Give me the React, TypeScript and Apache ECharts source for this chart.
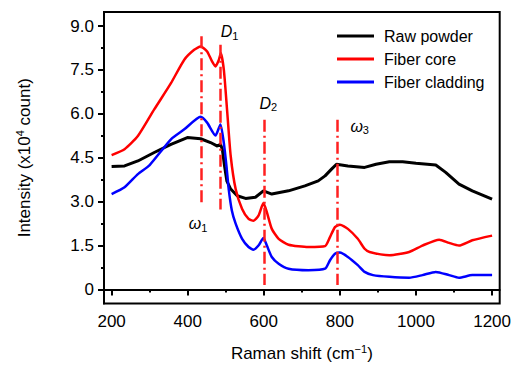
import React, { useEffect, useRef } from "react";
import * as echarts from "echarts";

const FONT = "Liberation Sans, Arial, sans-serif";

// Raw powder
const rawX = [200, 234, 269, 312, 356, 399, 434, 460, 478, 486, 491, 497, 503, 513, 530, 552, 578, 599, 621, 665, 708, 743, 761, 778, 791, 821, 865, 895, 930, 965, 1000, 1052, 1078, 1113, 1148, 1200];
const rawY = [4.2, 4.22, 4.39, 4.68, 4.96, 5.19, 5.15, 5.02, 4.9, 4.96, 4.79, 4.2, 3.7, 3.43, 3.2, 3.11, 3.15, 3.37, 3.26, 3.37, 3.54, 3.71, 3.88, 4.11, 4.28, 4.22, 4.17, 4.28, 4.36, 4.36, 4.31, 4.25, 4.0, 3.6, 3.37, 3.09];

// Fiber core
const coreX = [200, 234, 269, 312, 356, 391, 417, 434, 451, 464, 473, 482, 487, 495, 504, 513, 526, 543, 560, 573, 586, 599, 608, 621, 639, 665, 717, 761, 774, 787, 800, 821, 847, 865, 878, 930, 982, 1017, 1061, 1087, 1113, 1148, 1200];
const coreY = [4.59, 4.79, 5.24, 6.15, 7.05, 7.85, 8.19, 8.3, 8.13, 7.79, 7.62, 7.85, 8.08, 7.5, 6.04, 4.56, 3.43, 2.75, 2.41, 2.35, 2.52, 2.95, 2.64, 2.07, 1.73, 1.53, 1.45, 1.48, 1.79, 2.13, 2.21, 2.07, 1.73, 1.39, 1.28, 1.17, 1.28, 1.5, 1.7, 1.59, 1.5, 1.68, 1.84];

// Fiber cladding
const cladX = [200, 234, 269, 300, 356, 391, 434, 451, 473, 486, 495, 502, 508, 516, 526, 543, 560, 573, 586, 599, 608, 621, 639, 665, 717, 761, 774, 787, 800, 821, 847, 865, 887, 930, 982, 1017, 1052, 1087, 1113, 1148, 1200];
const cladY = [3.26, 3.49, 3.94, 4.25, 5.13, 5.47, 5.9, 5.7, 5.26, 5.64, 5.0, 4.2, 3.4, 2.7, 2.25, 1.73, 1.45, 1.36, 1.5, 1.76, 1.5, 1.11, 0.88, 0.71, 0.66, 0.71, 1.0, 1.22, 1.26, 1.11, 0.83, 0.6, 0.49, 0.43, 0.4, 0.49, 0.6, 0.49, 0.4, 0.49, 0.49];

const seriesNames = ["Raw powder", "Fiber core", "Fiber cladding"];

// Axis ticks
const xMajor = [200, 400, 600, 800, 1000, 1200];
const xMinor = [300, 500, 700, 900, 1100];
const yMajor = [0, 1.5, 3, 4.5, 6, 7.5, 9];
const yMinor = [0.75, 2.25, 3.75, 5.25, 6.75, 8.25];

// Annotation lines (Raman shift, top, bottom)
const markX = [435, 486, 601, 793];
const markTop = [8.65, 8.36, 5.8, 5.8];
const markBottom = [2.98, 2.73, 0.15, 0.15];

// Annotation labels
const annoText = ["{i|ω}{sub|1}", "{i|D}{sub|1}", "{i|D}{sub|2}", "{i|ω}{sub|3}"];
const annoX = [427, 510, 612, 852];
const annoY = [2.24, 8.81, 6.36, 5.58];

const zip = (xs: number[], ys: number[]) => xs.map((x, i) => [x, ys[i]]);

export default function App() {
  const ref = useRef<HTMLDivElement>(null);
  useEffect(() => {
    document.body.style.margin = "0";
    if (!ref.current) return;
    const chart = echarts.init(ref.current, null, { renderer: "svg" });
    const axisCommon = {
      type: "value" as const,
      splitLine: { show: false },
    };
    const supRich = { sup: { fontSize: 11, fontFamily: FONT, color: "#000", padding: [0, 0, 9, 0] } };
    chart.setOption({
      animation: false,
      backgroundColor: "#fff",
      textStyle: { fontFamily: FONT, color: "#000" },
      grid: {
        left: 104,
        right: 11,
        top: 12,
        bottom: 62,
        show: true,
        borderColor: "#000",
        borderWidth: 2,
      },
      legend: {
        data: seriesNames,
        orient: "vertical",
        left: 332,
        top: 23,
        itemWidth: 37,
        itemHeight: 3,
        itemGap: 7,
        icon: "rect",
        textStyle: { fontSize: 16, color: "#000", fontFamily: FONT, lineHeight: 16, padding: [0, 0, 0, 5] },
      },
      xAxis: [
        {
          ...axisCommon,
          min: 180,
          max: 1220,
          position: "bottom",
          name: "Raman shift (cm{sup|−1})",
          nameLocation: "middle",
          nameGap: 40,
          nameTextStyle: { fontSize: 17, color: "#000", fontFamily: FONT, rich: supRich },
          axisLine: { show: true, lineStyle: { color: "#000", width: 2 } },
          axisTick: { show: true, length: 6, customValues: xMajor, lineStyle: { color: "#000", width: 2 } },
          axisLabel: {
            customValues: xMajor,
            fontSize: 17,
            color: "#000",
            fontFamily: FONT,
            margin: 9,
            formatter: (v: number) => String(v),
          },
        },
        {
          ...axisCommon,
          min: 180,
          max: 1220,
          position: "bottom",
          axisLine: { show: false },
          axisTick: { show: true, length: 3, customValues: xMinor, lineStyle: { color: "#000", width: 2 } },
          axisLabel: { show: false },
        },
      ],
      yAxis: [
        {
          ...axisCommon,
          min: -0.48,
          max: 9.48,
          position: "left",
          name: "Intensity (x10{sup|4} count)",
          nameLocation: "middle",
          nameGap: 70,
          nameTextStyle: { fontSize: 17, color: "#000", fontFamily: FONT, rich: supRich },
          axisLine: { show: true, lineStyle: { color: "#000", width: 2 } },
          axisTick: { show: true, length: 6, customValues: yMajor, lineStyle: { color: "#000", width: 2 } },
          axisLabel: {
            customValues: yMajor,
            fontSize: 17,
            color: "#000",
            fontFamily: FONT,
            margin: 10,
            formatter: (v: number) => (v === 0 ? "0" : v.toFixed(1)),
          },
        },
        {
          ...axisCommon,
          min: -0.48,
          max: 9.48,
          position: "left",
          axisLine: { show: false },
          axisTick: { show: true, length: 3, customValues: yMinor, lineStyle: { color: "#000", width: 2 } },
          axisLabel: { show: false },
        },
      ],
      series: [
        {
          name: seriesNames[0],
          type: "line",
          data: zip(rawX, rawY),
          showSymbol: false,
          symbol: "none",
          lineStyle: { color: "#000", width: 3 },
          itemStyle: { color: "#000" },
          z: 3,
        },
        {
          name: seriesNames[1],
          type: "line",
          data: zip(coreX, coreY),
          showSymbol: false,
          symbol: "none",
          smooth: 0.2,
          lineStyle: { color: "#ff0000", width: 2.5 },
          itemStyle: { color: "#ff0000" },
          z: 3,
        },
        {
          name: seriesNames[2],
          type: "line",
          data: zip(cladX, cladY),
          showSymbol: false,
          symbol: "none",
          smooth: 0.2,
          lineStyle: { color: "#0000ff", width: 2.5 },
          itemStyle: { color: "#0000ff" },
          z: 3,
        },
        {
          name: "annotations",
          type: "line",
          data: [],
          symbol: "none",
          z: 4,
          markLine: {
            silent: true,
            symbol: ["none", "none"],
            label: { show: false },
            lineStyle: { color: "#ff2020", width: 2.5, type: [12, 4, 2, 4] },
            data: markX.map((x, i) => [
              { coord: [x, markTop[i]] },
              { coord: [x, markBottom[i]] },
            ]),
          },
          markPoint: {
            silent: true,
            symbol: "circle",
            symbolSize: 0,
            itemStyle: { color: "transparent" },
            label: {
              show: true,
              position: "inside",
              color: "#000",
              fontFamily: FONT,
              rich: {
                i: { fontSize: 16, fontStyle: "italic", fontFamily: FONT, color: "#000" },
                sub: { fontSize: 11, fontFamily: FONT, color: "#000", padding: [8, 0, 0, 0] },
              },
            },
            data: annoX.map((x, i) => ({
              coord: [x, annoY[i]],
              label: { formatter: annoText[i] },
            })),
          },
        },
      ],
    });
    return () => chart.dispose();
  }, []);
  return <div ref={ref} style={{ width: 514, height: 367 }} />;
}
